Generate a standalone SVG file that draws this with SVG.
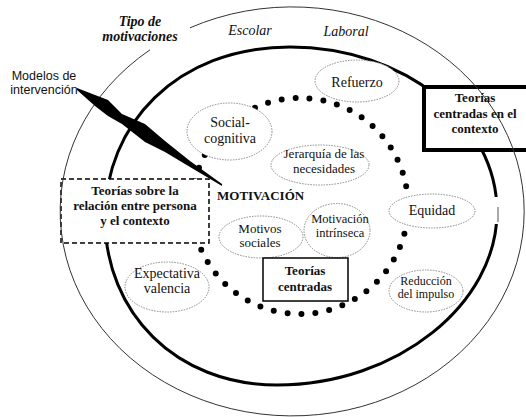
<svg xmlns="http://www.w3.org/2000/svg" width="526" height="417" viewBox="0 0 526 417">
<style>
.serif{font-family:"Liberation Serif","Times New Roman",serif;fill:#111}
.sans{font-family:"Liberation Sans",Arial,sans-serif;fill:#111}
.b{font-weight:bold}
.it{font-style:italic}
.bub{fill:#fff;stroke:#888;stroke-width:1;stroke-dasharray:1.5 1.2}
.mid{text-anchor:middle}
</style>
<rect width="526" height="417" fill="#fff"/>
<!-- inner thick ellipse -->
<path id="contexto-interno" d="M290 47 C404 47 497 121 497 212 C497 303 398 385 277 385 C176 385 105 313 105 218 C105 125 176 47 290 47 Z" fill="none" stroke="#000" stroke-width="3"/>
<rect x="492" y="197" width="10" height="27" fill="#fff"/>
<line x1="498" y1="207" x2="498" y2="222" stroke="#555" stroke-width="1"/>
<!-- dotted circle -->
<circle id="motivacion-circulo" cx="300" cy="206" r="108" fill="none" stroke="#000" stroke-width="6" stroke-dasharray="0 14" stroke-linecap="round"/>

<g id="refuerzo"><ellipse class="bub" cx="357" cy="81" rx="42" ry="21"/><text class="serif mid" x="357" y="87" font-size="14">Refuerzo</text></g>
<g id="social-cognitiva"><ellipse class="bub" cx="229.5" cy="131.5" rx="42.5" ry="28.5"/><text class="serif mid" x="230" y="127" font-size="14">Social-</text><text class="serif mid" x="230" y="143" font-size="14">cognitiva</text></g>
<g id="jerarquia"><ellipse class="bub" cx="320" cy="165" rx="49" ry="20"/><text class="serif mid" x="324" y="158" font-size="13">Jerarquía de las</text><text class="serif mid" x="324" y="173" font-size="13">necesidades</text></g>
<g id="motivos-sociales"><ellipse class="bub" cx="261" cy="237" rx="42" ry="21"/><text class="serif mid" x="260" y="233" font-size="13">Motivos</text><text class="serif mid" x="260" y="247" font-size="13">sociales</text></g>
<g id="motivacion-intrinseca"><ellipse class="bub" cx="337" cy="230.5" rx="33" ry="27"/><text class="serif mid" x="340" y="223" font-size="12.5">Motivación</text><text class="serif mid" x="340" y="237" font-size="12.5">intrínseca</text></g>
<g id="equidad"><ellipse class="bub" cx="432" cy="211" rx="43" ry="17"/><text class="serif mid" x="432" y="215" font-size="14">Equidad</text></g>
<g id="reduccion"><ellipse class="bub" cx="426" cy="291" rx="37" ry="21"/><text class="serif mid" x="426" y="285" font-size="12">Reducción</text><text class="serif mid" x="426" y="298" font-size="12">del impulso</text></g>
<g id="expectativa"><ellipse class="bub" cx="167" cy="287" rx="42" ry="25"/><text class="serif mid" x="167" y="278" font-size="14">Expectativa</text><text class="serif mid" x="167" y="293" font-size="14">valencia</text></g>

<g id="motivacion"><text class="serif b" x="217" y="200" font-size="13">MOTIVACIÓN</text></g>

<g id="teorias-persona-contexto"><rect x="61" y="179" width="148" height="64" fill="#fff" stroke="#000" stroke-width="1.5" stroke-dasharray="5 3"/><text class="serif b mid" x="135" y="195" font-size="13">Teorías sobre la</text><text class="serif b mid" x="135" y="210" font-size="13">relación entre persona</text><text class="serif b mid" x="135" y="225" font-size="13">y el contexto</text></g>

<g id="teorias-centradas"><rect x="263" y="258" width="85" height="43" fill="#fff" stroke="#000" stroke-width="1.5"/><text class="serif b mid" x="305" y="275" font-size="13">Teorías</text><text class="serif b mid" x="305" y="291" font-size="13">centradas</text></g>

<g id="teorias-contexto"><rect x="424" y="87" width="106" height="63" fill="#fff" stroke="#000" stroke-width="4"/></g>

<!-- outer thin ellipse with gap for label -->
<path id="tipo-motivaciones-elipse" d="M190 27.8 A232 204.5 0 1 1 150 49.8" fill="none" stroke="#333" stroke-width="1"/>

<g id="teorias-contexto-texto"><text class="serif b mid" x="475" y="102" font-size="13">Teorías</text><text class="serif b mid" x="475" y="118" font-size="13">centradas en el</text><text class="serif b mid" x="475" y="133" font-size="13">contexto</text></g>

<g id="tipo-motivaciones"><text class="serif b it mid" x="140" y="26" font-size="14">Tipo de</text><text class="serif b it mid" x="140" y="41" font-size="14">motivaciones</text></g>
<g id="escolar"><text class="serif it mid" x="250" y="35" font-size="14">Escolar</text></g>
<g id="laboral"><text class="serif it mid" x="346" y="36" font-size="14">Laboral</text></g>
<g id="modelos"><text class="sans mid" x="44" y="80" font-size="12.5">Modelos de</text><text class="sans mid" x="44" y="94" font-size="12.5">intervención</text></g>

<g id="connectors">
<polygon points="77,88 95,95 108,100 122,114 145,124 165,141 190,161 222,184 222,186 190,167 165,152 145,142 122,124 108,116 95,106 77,90" fill="#000"/>
</g>
</svg>
